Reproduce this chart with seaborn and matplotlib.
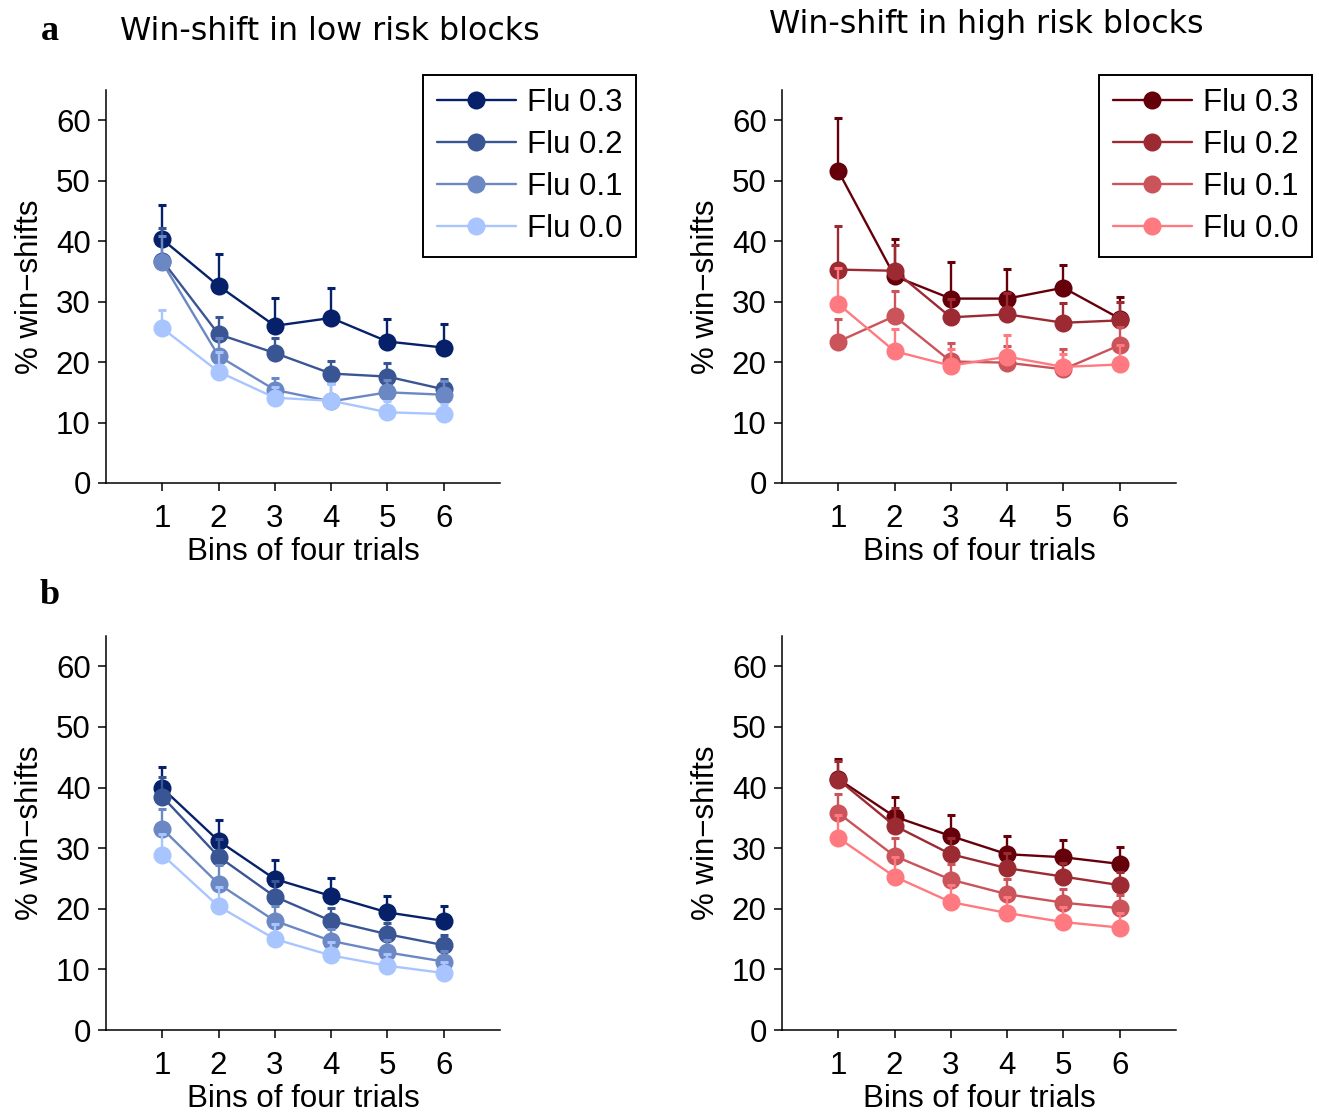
import numpy as np
import pandas as pd
import matplotlib
matplotlib.use("Agg")
import matplotlib.pyplot as plt
import seaborn as sns

sns.set_theme(style="white")
plt.rcParams["font.family"] = ["Liberation Sans", "DejaVu Sans"]
plt.rcParams.update({
    "text.color": "black",
    "axes.labelcolor": "black",
    "xtick.color": "black",
    "ytick.color": "black",
})

# ---- data -------------------------------------------------------------
bins = [1, 2, 3, 4, 5, 6]
flu_labels = ["Flu 0.3", "Flu 0.2", "Flu 0.1", "Flu 0.0"]

blue_colors = ["#06206a", "#3a5593", "#6b88c4", "#a9c5ff"]
red_colors = ["#65000b", "#9c2a32", "#cb535a", "#ff7a80"]

# panel a, low risk blocks: mean and upper SE per Flu level (rows) and bin
a_low_mean = [
    [40.3, 32.6, 26.0, 27.3, 23.4, 22.4],
    [36.8, 24.6, 21.5, 18.1, 17.6, 15.5],
    [36.5, 21.0, 15.4, 13.5, 15.0, 14.6],
    [25.6, 18.4, 14.1, 13.6, 11.7, 11.4],
]
a_low_se = [
    [5.7, 5.3, 4.6, 4.9, 3.8, 3.9],
    [5.3, 2.8, 2.5, 2.1, 2.2, 1.7],
    [4.3, 3.0, 2.0, 3.0, 2.0, 2.3],
    [3.0, 3.3, 1.8, 2.8, 1.8, 1.7],
]

# panel a, high risk blocks
a_high_mean = [
    [51.6, 34.2, 30.5, 30.5, 32.3, 27.2],
    [35.3, 35.1, 27.4, 27.9, 26.5, 26.9],
    [23.4, 27.6, 20.1, 19.9, 18.8, 22.8],
    [29.6, 21.8, 19.4, 20.9, 19.2, 19.6],
]
a_high_se = [
    [8.8, 6.2, 6.0, 4.9, 3.7, 3.6],
    [7.2, 4.3, 3.0, 3.6, 3.3, 3.0],
    [3.7, 4.1, 3.0, 2.8, 3.4, 3.0],
    [5.9, 3.7, 2.8, 3.6, 2.2, 3.3],
]

# panel b, low risk blocks
b_low_mean = [
    [39.9, 31.2, 24.9, 22.1, 19.4, 18.0],
    [38.5, 28.6, 22.0, 18.0, 15.8, 14.0],
    [33.2, 24.1, 18.0, 14.7, 12.8, 11.3],
    [28.9, 20.4, 15.0, 12.3, 10.6, 9.4],
]
b_low_se = [
    [3.5, 3.5, 3.2, 2.9, 2.7, 2.5],
    [3.2, 2.9, 2.5, 2.2, 1.9, 1.7],
    [3.3, 3.1, 2.5, 1.9, 2.1, 1.7],
    [3.5, 3.2, 2.5, 2.2, 2.0, 1.8],
]

# panel b, high risk blocks
b_high_mean = [
    [41.4, 35.2, 32.0, 29.0, 28.5, 27.4],
    [41.3, 33.7, 29.0, 26.7, 25.3, 23.9],
    [35.8, 28.7, 24.8, 22.4, 21.0, 20.1],
    [31.7, 25.3, 21.1, 19.3, 17.8, 16.9],
]
b_high_se = [
    [3.3, 3.3, 3.5, 3.0, 2.8, 2.8],
    [3.1, 3.0, 2.7, 2.5, 2.3, 2.2],
    [3.2, 3.0, 2.6, 2.5, 2.2, 2.2],
    [3.7, 3.3, 2.9, 2.6, 2.5, 2.4],
]

yticks = [0, 10, 20, 30, 40, 50, 60]

FS = 22.5
W, H = 1319, 1113
fig = plt.figure(figsize=(W / 100, H / 100), dpi=100)


def px_axes(x0, y0, x1, y1):
    return fig.add_axes([x0 / W, 1 - y1 / H, (x1 - x0) / W, (y1 - y0) / H])


def draw_panel(ax, means, ses, colors, show_legend):
    handles = []
    for label, m, s, c in zip(flu_labels, means, ses, colors):
        df = pd.DataFrame({"bin": bins, "pct": m})
        n_before = len(ax.lines)
        sns.lineplot(data=df, x="bin", y="pct", ax=ax, color=c, lw=1.7,
                     marker="o", markersize=13, markeredgewidth=0,
                     legend=False, errorbar=None)
        handles.append(ax.lines[n_before])
        ax.errorbar(bins, m, yerr=[np.zeros(len(m)), s], fmt="none",
                    ecolor=c, elinewidth=1.7, capsize=2.6, capthick=2.2)
    ax.set_xlim(0, 7)
    ax.set_ylim(0, 65)
    ax.set_xticks(bins)
    ax.set_yticks(yticks)
    ax.tick_params(axis="both", which="major", labelsize=FS, direction="out",
                   length=6, width=1.1, color="black", labelcolor="black",
                   left=True, bottom=True)
    ax.tick_params(axis="x", pad=9)
    ax.tick_params(axis="y", pad=5)
    for side in ("top", "right"):
        ax.spines[side].set_visible(False)
    for side in ("left", "bottom"):
        ax.spines[side].set_color("black")
        ax.spines[side].set_linewidth(1.1)
    ax.set_xlabel("Bins of four trials", fontsize=FS, labelpad=2,
                  color="black")
    ax.set_ylabel("% win\u2212shifts", fontsize=FS, labelpad=8,
                  color="black")
    if show_legend:
        leg = ax.legend(handles, flu_labels, loc="upper right",
                        bbox_to_anchor=(1.345, 1.038), fontsize=FS,
                        frameon=True, fancybox=False, framealpha=1,
                        edgecolor="black", borderpad=0.42, labelspacing=0.38,
                        handlelength=2.55, handletextpad=0.35,
                        borderaxespad=0)
        leg.get_frame().set_linewidth(1.4)
        for t in leg.get_texts():
            t.set_color("black")


ax_a1 = px_axes(106, 90, 500, 483)
ax_a2 = px_axes(782, 90, 1176, 483)
ax_b1 = px_axes(106, 636, 500, 1030)
ax_b2 = px_axes(782, 636, 1176, 1030)

draw_panel(ax_a1, a_low_mean, a_low_se, blue_colors, True)
draw_panel(ax_a2, a_high_mean, a_high_se, red_colors, True)
draw_panel(ax_b1, b_low_mean, b_low_se, blue_colors, False)
draw_panel(ax_b2, b_high_mean, b_high_se, red_colors, False)

fig.text(330 / W, 1 - 31 / H, "Win-shift in low risk blocks", ha="center",
         va="center", fontsize=22.8, family="DejaVu Sans", color="black")
fig.text(986 / W, 1 - 24 / H, "Win-shift in high risk blocks", ha="center",
         va="center", fontsize=22.8, family="DejaVu Sans", color="black")
fig.text(50 / W, 1 - 32 / H, "a", ha="center", va="center", fontsize=26,
         fontweight="bold", family="Liberation Serif", color="black")
fig.text(50 / W, 1 - 596 / H, "b", ha="center", va="center", fontsize=26,
         fontweight="bold", family="Liberation Serif", color="black")

fig.savefig("out.png", dpi=100, facecolor="white")
